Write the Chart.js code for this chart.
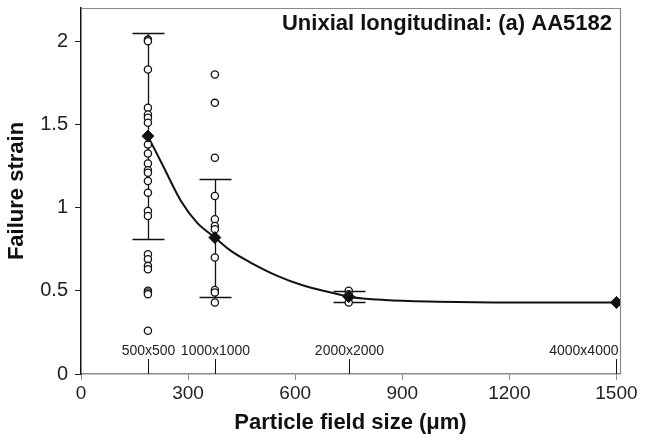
<!DOCTYPE html>
<html>
<head>
<meta charset="utf-8">
<script src="https://cdn.jsdelivr.net/npm/chart.js@4"></script>
<style>
  html, body { margin: 0; padding: 0; background: #fff; }
  #wrap { width: 646px; height: 440px; }
</style>
</head>
<body>
<div id="wrap"><canvas id="chart"></canvas></div>
<script>
// particle field sizes (um) and their labels
const sizes = [187.5, 375, 750, 1500];
const sizeLabels = ['500x500', '1000x1000', '2000x2000', '4000x4000'];

// mean failure strain and error bar ends
const means = [1.43, 0.82, 0.465, 0.43];
const errTop = [2.05, 1.175, 0.50, null];
const errBottom = [0.81, 0.465, 0.43, null];

// individual samples
const samples500 = [2.01, 2.0, 1.83, 1.60, 1.56, 1.54, 1.51, 1.38, 1.325, 1.265, 1.225, 1.21, 1.16, 1.09, 0.98, 0.95, 0.72, 0.69, 0.65, 0.63, 0.50, 0.49, 0.48, 0.26];
const samples1000 = [1.80, 1.63, 1.30, 1.07, 0.93, 0.89, 0.87, 0.70, 0.505, 0.49, 0.43];
const samples2000 = [0.50, 0.48, 0.46, 0.43];

// fitted trend curve
const curveX = [187.5, 230, 280, 325, 375, 420, 475, 550, 625, 700, 750, 850, 1000, 1200, 1500];
const curveY = [1.43, 1.25, 1.04, 0.91, 0.82, 0.74, 0.67, 0.59, 0.53, 0.49, 0.465, 0.445, 0.435, 0.43, 0.43];

// tick labels
const xTicks = [0, 300, 600, 900, 1200, 1500];
const yTicks = [0, 0.5, 1, 1.5, 2];

const FONT = "'Liberation Sans', Arial, Helvetica, sans-serif";

// build point lists
let samplePts = [];
samples500.forEach(v => samplePts.push({x: sizes[0], y: v}));
samples1000.forEach(v => samplePts.push({x: sizes[1], y: v}));
samples2000.forEach(v => samplePts.push({x: sizes[2], y: v}));
let meanPts = sizes.map((s, i) => ({x: s, y: means[i]}));
let curvePts = curveX.map((x, i) => ({x: x, y: curveY[i]}));

// error bars, frame, size labels
const decor = {
    id: 'decor',
    beforeDatasetsDraw(chart) {
        let ctx = chart.ctx;
        let xs = chart.scales.x, ys = chart.scales.y;
        let area = chart.chartArea;
        ctx.save();
        // frame top + right
        ctx.strokeStyle = '#8a8a8a';
        ctx.lineWidth = 1.2;
        ctx.beginPath();
        ctx.moveTo(area.left, area.top + 0.5);
        ctx.lineTo(area.right + 0.5, area.top + 0.5);
        ctx.lineTo(area.right + 0.5, area.bottom);
        ctx.stroke();

        // error bars
        ctx.strokeStyle = '#111';
        ctx.lineWidth = 1.3;
        for (let i = 0; i < sizes.length; i++) {
            if (errTop[i] == null) continue;
            let px = Math.round(xs.getPixelForValue(sizes[i])) + 0.5;
            let t = Math.round(ys.getPixelForValue(errTop[i])) + 0.5;
            let b = Math.round(ys.getPixelForValue(errBottom[i])) + 0.5;
            ctx.beginPath();
            ctx.moveTo(px, t); ctx.lineTo(px, b);
            ctx.moveTo(px - 16, t); ctx.lineTo(px + 16, t);
            ctx.moveTo(px - 16, b); ctx.lineTo(px + 16, b);
            ctx.stroke();
        }

        // size labels with short markers down to the axis
        ctx.font = '14px ' + FONT;
        ctx.fillStyle = '#222';
        ctx.textBaseline = 'alphabetic';
        for (let i = 0; i < sizes.length; i++) {
            let px = Math.round(xs.getPixelForValue(sizes[i])) + 0.5;
            ctx.textAlign = i == sizes.length - 1 ? 'right' : 'center';
            let tx = i == sizes.length - 1 ? px + 2 : px;
            ctx.fillText(sizeLabels[i], tx, area.bottom - 19);
            ctx.beginPath();
            ctx.strokeStyle = '#111';
            ctx.lineWidth = 1;
            ctx.moveTo(px, area.bottom - 15);
            ctx.lineTo(px, area.bottom);
            ctx.stroke();
        }

        // title inside plot
        ctx.font = 'bold 22px ' + FONT;
        ctx.textAlign = 'right';
        ctx.fillStyle = '#111';
        ctx.fillText('Unixial longitudinal: (a) AA5182', area.right - 8, area.top + 22);
        ctx.restore();
    }
};

new Chart(document.getElementById('chart'), {
    type: 'scatter',
    data: {
        datasets: [
            {
                label: 'mean',
                data: meanPts,
                pointStyle: 'rectRot',
                pointRadius: 6,
                backgroundColor: '#111',
                borderColor: '#111',
                borderWidth: 1,
                order: 0
            },
            {
                label: 'samples',
                data: samplePts,
                pointStyle: 'circle',
                pointRadius: 3.6,
                backgroundColor: '#fff',
                borderColor: '#111',
                borderWidth: 1.3,
                order: 1
            },
            {
                label: 'trend',
                data: curvePts,
                showLine: true,
                pointRadius: 0,
                borderColor: '#111',
                borderWidth: 2,
                cubicInterpolationMode: 'monotone',
                order: 2
            }
        ]
    },
    options: {
        responsive: true,
        maintainAspectRatio: false,
        animation: false,
        layout: { padding: { top: 8, right: 26, left: 0, bottom: 0 } },
        plugins: {
            legend: { display: false },
            tooltip: { enabled: false }
        },
        scales: {
            x: {
                type: 'linear',
                min: 0,
                max: 1510,
                afterBuildTicks: s => { s.ticks = xTicks.map(v => ({value: v})); },
                afterFit: s => { s.height = 66; s.paddingLeft = 0; s.paddingRight = 0; },
                grid: { drawOnChartArea: false, drawTicks: true, tickLength: 6, tickColor: '#8a8a8a' },
                border: { color: '#8a8a8a', width: 1.5 },
                ticks: { font: { family: FONT, size: 19 }, color: '#222', padding: 2, maxRotation: 0, callback: v => String(v) },
                title: {
                    display: true,
                    text: 'Particle field size (\u03bcm)',
                    font: { family: FONT, size: 22, weight: 'bold' },
                    color: '#111',
                    padding: { top: 1 }
                }
            },
            y: {
                min: 0,
                max: 2.2,
                afterBuildTicks: s => { s.ticks = yTicks.map(v => ({value: v})); },
                afterFit: s => { s.width = 81; s.paddingTop = 0; s.paddingBottom = 0; },
                grid: { drawOnChartArea: false, drawTicks: true, tickLength: 6, tickColor: '#222' },
                border: { color: '#111', width: 1.5 },
                ticks: { font: { family: FONT, size: 20 }, color: '#222', padding: 7, callback: v => String(v) },
                title: {
                    display: true,
                    text: 'Failure strain',
                    font: { family: FONT, size: 22, weight: 'bold' },
                    color: '#111',
                    padding: { bottom: 2 }
                }
            }
        }
    },
    plugins: [decor]
});
</script>
</body>
</html>
